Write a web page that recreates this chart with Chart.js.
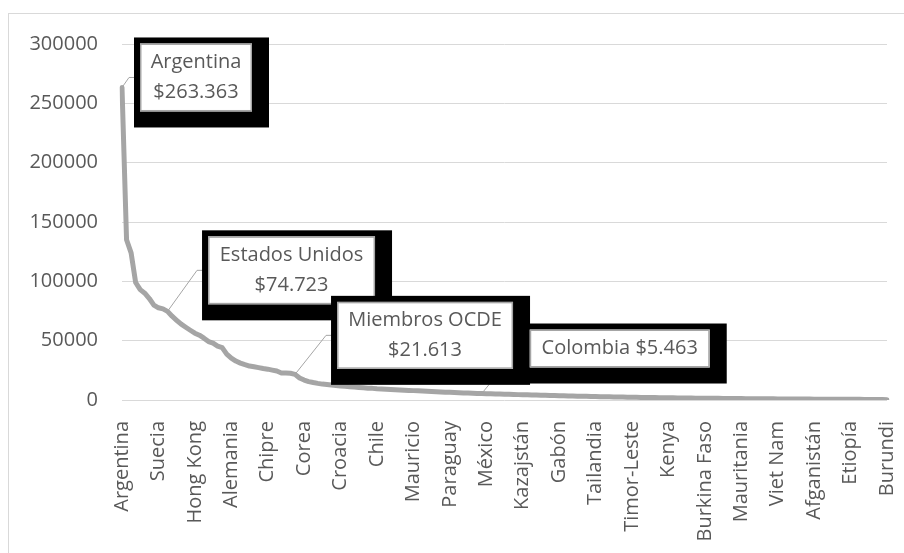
<!DOCTYPE html>
<html>
<head>
<meta charset="utf-8">
<script src="https://cdn.jsdelivr.net/npm/chart.js@4.4.1/dist/chart.umd.min.js"></script>
<style>
  html, body { margin: 0; padding: 0; background: #fff; overflow: hidden; }
  body { width: 904px; height: 553px; position: relative; }
  .frame { position: absolute; left: 8px; top: 13px; width: 904px; height: 553px; border: 1px solid #d9d9d9; box-sizing: border-box; }
  .wrap { position: absolute; left: 9px; top: 8px; width: 923px; height: 545px; }
</style>
</head>
<body>
<div class="frame"></div>
<div class="wrap"><canvas id="chart"></canvas></div>
<script>
// Countries sorted from highest to lowest value
const countries = [
    'Argentina', 'Suiza', 'Luxemburgo', 'Noruega', 'Irlanda', 'Islandia', 'Dinamarca', 'Australia',
    'Suecia', 'Países Bajos', 'Estados Unidos', 'Austria', 'Finlandia', 'Bélgica', 'Canadá', 'Singapur',
    'Hong Kong', 'Nueva Zelandia', 'Reino Unido', 'Francia', 'Israel', 'Japón', 'Qatar', 'Emiratos Árabes Unidos',
    'Alemania', 'Italia', 'Kuwait', 'Brunei', 'España', 'Malta', 'Eslovenia', 'Bahamas',
    'Chipre', 'Portugal', 'Estonia', 'Barbados', 'Grecia', 'República Checa', 'Miembros OCDE', 'Bahrein',
    'Corea', 'Eslovaquia', 'Lituania', 'Letonia', 'Arabia Saudita', 'Omán', 'Uruguay', 'Hungría',
    'Croacia', 'Polonia', 'Trinidad y Tabago', 'Panamá', 'Costa Rica', 'Seychelles', 'Antigua y Barbuda', 'Saint Kitts y Nevis',
    'Chile', 'Rumania', 'Malasia', 'Turquía', 'Bulgaria', 'Rusia', 'Montenegro', 'Granada',
    'Mauricio', 'Santa Lucía', 'Botswana', 'Serbia', 'Brasil', 'China', 'Dominica', 'República Dominicana',
    'Paraguay', 'Macedonia del Norte', 'Albania', 'Ecuador', 'Perú', 'Belarús', 'Georgia', 'Colombia',
    'México', 'Armenia', 'Guinea Ecuatorial', 'Azerbaiyán', 'Jamaica', 'Libia', 'Líbano', 'Sudáfrica',
    'Kazajstán', 'Bosnia y Herzegovina', 'Suriname', 'Irán', 'Argelia', 'Túnez', 'Guyana', 'Belice',
    'Gabón', 'Fiji', 'Jordania', 'Mongolia', 'Namibia', 'Tonga', 'Samoa', 'Sri Lanka',
    'Tailandia', 'Indonesia', 'Egipto', 'Filipinas', 'Marruecos', 'Bolivia', 'Guatemala', 'El Salvador',
    'Timor-Leste', 'Honduras', 'Nicaragua', 'Ucrania', 'Moldova', 'Cabo Verde', 'Bután', 'India',
    'Kenya', 'Ghana', 'Nigeria', 'Angola', 'Congo', 'Zambia', 'Camerún', "Côte d'Ivoire",
    'Burkina Faso', 'Senegal', 'Pakistán', 'Bangladesh', 'Myanmar', 'Laos', 'Camboya', 'Nepal',
    'Mauritania', 'Tanzanía', 'Uganda', 'Benin', 'Zimbabwe', 'Lesotho', 'Kirguistán', 'Tayikistán',
    'Viet Nam', 'Uzbekistán', 'Haití', 'Yemen', 'Sudán', 'Malí', 'Guinea', 'Togo',
    'Afganistán', 'Rwanda', 'Gambia', 'Sierra Leona', 'Liberia', 'Chad', 'Guinea-Bissau', 'Comoras',
    'Etiopía', 'Madagascar', 'Mozambique', 'Malawi', 'Níger', 'Eritrea', 'República Centroafricana', 'Somalia',
    'Burundi'
];

const values = [
    263363, 135000, 124000, 99000, 93000, 90000, 85500, 80000, 77700, 76800, 74723,
    70600, 67200, 63900, 61300, 58800, 56300, 54600, 52100, 49200, 47900,
    45400, 44100, 38700, 35300, 32800, 31100, 29800, 28600, 28000, 27300,
    26500, 26000, 25200, 24400, 22800, 22700, 22500, 21613,
    18500, 16800, 15500, 14700, 14000, 13400, 13000, 12600, 12200, 11800,
    11500, 11200, 10900, 10600, 10300, 10000, 9800, 9500, 9300, 9100, 8900, 8700, 8500,
    8300, 8100, 7900, 7700, 7500, 7300, 7100, 6900, 6750, 6600, 6450, 6300, 6150, 6000, 5850, 5700, 5580, 5463,
    5350, 5230, 5100, 4980, 4860, 4750, 4640, 4530, 4420, 4320, 4220, 4120, 4020, 3920, 3820, 3720, 3620,
    3520, 3420, 3330, 3240, 3150, 3060, 2980, 2900, 2820, 2740, 2660, 2590, 2520, 2450,
    2380, 2310, 2250, 2190, 2130, 2070, 2010, 1960, 1910, 1860, 1810, 1760, 1710, 1660, 1620, 1580, 1540, 1500, 1460, 1420,
    1380, 1340, 1300, 1260, 1220, 1180, 1140, 1110, 1080, 1050, 1020, 990, 960, 930, 900, 870, 840, 810, 790, 770,
    750, 730, 710, 690, 670, 650, 630, 610, 590, 570, 550, 530, 510, 490, 460, 430, 390, 300
];

const yTicks = [0, 50000, 100000, 150000, 200000, 250000, 300000];

// every 8th country gets an axis label
const labelEvery = 8;

// highlighted countries (indexes into countries/values)
const calloutIndex = [0, 10, 38, 79];
const calloutSingleLine = [false, false, false, true];

// box placement relative to the point, in px
const calloutBoxes = [
    { dx: 74, dy: -10, w: 112, h: 68 },
    { dx: 124, dy: -41, w: 167, h: 68 },
    { dx: 130, dy: -39, w: 176, h: 67 },
    { dx: 138, dy: -45, w: 180, h: 38 }
];

const textColor = '#595959';
const fontFamily = "'Open Sans', sans-serif";

function money(v) {
    return '$' + String(v).replace(/\B(?=(\d{3})+(?!\d))/g, '.');
}

const calloutPlugin = {
    id: 'callouts',
    afterDatasetsDraw(chart) {
        const ctx = chart.ctx;
        const meta = chart.getDatasetMeta(0);
        const boxes = calloutIndex.map((idx, k) => {
            const pt = meta.data[idx];
            const b = calloutBoxes[k];
            const cx = pt.x + b.dx;
            const cy = pt.y + b.dy;
            const name = countries[idx];
            const lines = calloutSingleLine[k]
                ? [name + ' ' + money(values[idx])]
                : [name, money(values[idx])];
            return { px: pt.x, py: pt.y, x: cx - b.w / 2, y: cy - b.h / 2, w: b.w, h: b.h, cx, cy, lines };
        });

        ctx.save();
        // leader lines first so the boxes sit on top
        ctx.strokeStyle = '#a5a5a5';
        ctx.lineWidth = 1;
        boxes.forEach(b => {
            ctx.beginPath();
            ctx.moveTo(b.px, b.py);
            ctx.lineTo(b.x - 11, b.cy);
            ctx.lineTo(b.x, b.cy);
            ctx.stroke();
        });

        ctx.font = '20px ' + fontFamily;
        ctx.textAlign = 'center';
        ctx.textBaseline = 'middle';
        boxes.forEach(b => {
            ctx.fillStyle = '#000';
            ctx.fillRect(b.x - 6, b.y - 6, b.w + 23, b.h + 22);
            ctx.fillStyle = '#fff';
            ctx.fillRect(b.x, b.y, b.w, b.h);
            ctx.strokeStyle = '#a5a5a5';
            ctx.lineWidth = 1.5;
            ctx.strokeRect(b.x + 0.75, b.y + 0.75, b.w - 1.5, b.h - 1.5);
            ctx.fillStyle = textColor;
            const lh = 30;
            const top = b.cy - (b.lines.length - 1) * lh / 2;
            b.lines.forEach((t, i) => ctx.fillText(t, b.cx, top + i * lh));
        });
        ctx.restore();
    }
};

new Chart(document.getElementById('chart'), {
    type: 'line',
    data: {
        labels: countries,
        datasets: [{
            data: values,
            borderColor: '#a5a5a5',
            borderWidth: 5,
            borderJoinStyle: 'round',
            borderCapStyle: 'round',
            pointRadius: 0,
            tension: 0,
            fill: false
        }]
    },
    options: {
        responsive: true,
        maintainAspectRatio: false,
        animation: false,
        layout: {
            padding: { left: 0, top: 23, right: 17, bottom: 0 }
        },
        plugins: {
            legend: { display: false },
            tooltip: { enabled: false }
        },
        scales: {
            x: {
                offset: false,
                grid: { display: false, drawTicks: false },
                border: { display: false },
                ticks: {
                    autoSkip: false,
                    maxRotation: 90,
                    minRotation: 90,
                    padding: 21,
                    color: textColor,
                    font: { family: fontFamily, size: 20 },
                    callback: function(value, index) {
                        return index % labelEvery === 0 ? countries[index] : '';
                    }
                },
                afterFit: function(axis) { axis.height = 153; }
            },
            y: {
                min: 0,
                max: 300000,
                afterBuildTicks: function(axis) {
                    axis.ticks = yTicks.map(v => ({ value: v }));
                },
                grid: { color: '#d9d9d9', lineWidth: 1, drawTicks: false },
                border: { display: false },
                ticks: {
                    padding: 24,
                    color: textColor,
                    font: { family: fontFamily, size: 20 },
                    callback: function(value) { return String(value); }
                },
                afterFit: function(axis) { axis.width = 113; }
            }
        }
    },
    plugins: [calloutPlugin]
});
</script>
</body>
</html>
